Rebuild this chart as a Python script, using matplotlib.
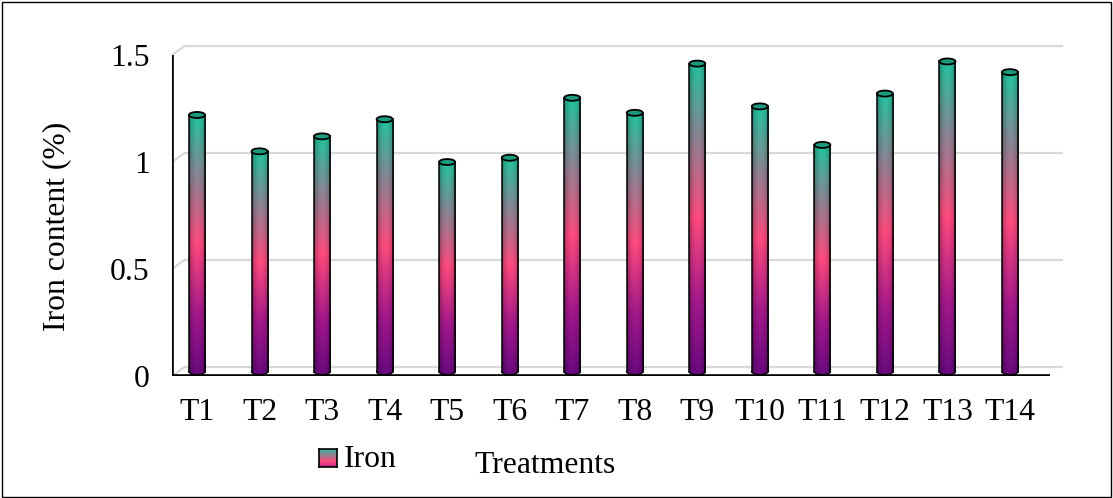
import numpy as np
import matplotlib.pyplot as plt
from matplotlib.colors import LinearSegmentedColormap
from matplotlib.patches import Ellipse, Rectangle

treatments = ["T1", "T2", "T3", "T4", "T5", "T6", "T7",
              "T8", "T9", "T10", "T11", "T12", "T13", "T14"]
iron = [1.20, 1.03, 1.10, 1.18, 0.98, 1.00, 1.28,
        1.21, 1.44, 1.24, 1.06, 1.30, 1.45, 1.40]
y_ticks = [0, 0.5, 1, 1.5]
y_tick_labels = ["0", "0.5", "1", "1.5"]

plt.rcParams['font.family'] = ['Liberation Serif', 'DejaVu Serif']
fs = 22.8

# purple -> pink -> grey -> teal, like the excel gradient fill
cmap = LinearSegmentedColormap.from_list(
    "iron", [(0.0, "#6c0a80"), (0.22, "#a3188c"), (0.5, "#ff4a7e"),
             (0.76, "#8c8494"), (1.0, "#22c49f")])

fig = plt.figure(figsize=(11.13, 4.98), dpi=100)
ax = fig.add_axes([172/1113, 122/498, 903/1113, 346/498])
for s in ax.spines.values():
    s.set_visible(False)

# fake 3-d walls
dx, dy = 0.2, 0.042
x0, x1 = -0.4, 13.64
for t in y_ticks:
    ax.plot([x0 + dx, x1 + dx], [t + dy, t + dy], color="#d9d9d9", lw=1.6, zorder=1)
    ax.plot([x0, x0 + dx], [t, t + dy], color="#d9d9d9", lw=1.6, zorder=1)

ax.plot([x0, x0], [0, 1.5], color="black", lw=2.6, zorder=5, solid_capstyle="butt")
ax.plot([x0, x1], [0, 0], color="black", lw=2.6, zorder=5, solid_capstyle="butt")

# cylinders
w = 0.256
base = 0.02
eh = 0.028
N, M = 256, 40
grad = cmap(np.linspace(0, 1, N))[:, :3]
u = (np.arange(M) + 0.5) / M
shade = 0.6 + 0.4 * np.sin(np.pi * u) ** 0.6
img = np.clip(grad[:, None, :] * shade[None, :, None], 0, 1)

for i, v in enumerate(iron):
    top = base + v
    ax.add_patch(Ellipse((i, base), w, eh, facecolor="#6c0a80",
                         edgecolor="black", lw=1.0, zorder=2.9))
    ax.imshow(img, extent=[i - w/2, i + w/2, base, top], origin="lower",
              aspect="auto", interpolation="bilinear", zorder=3)
    ax.plot([i - w/2, i - w/2], [base, top], color="black", lw=1.1, zorder=3.5)
    ax.plot([i + w/2, i + w/2], [base, top], color="black", lw=1.1, zorder=3.5)
    ax.add_patch(Ellipse((i, top), w, eh, facecolor="#1b9a7d",
                         edgecolor="black", lw=1.3, zorder=4))

ax.set_xlim(-0.4, 14.04)
ax.set_ylim(0, 1.617)
ax.set_xticks(range(len(treatments)))
ax.set_xticklabels(treatments, fontsize=fs)
ax.set_yticks(y_ticks)
ax.set_yticklabels(y_tick_labels, fontsize=fs)
ax.tick_params(axis="x", length=0, pad=16)
ax.tick_params(axis="y", length=0, pad=16)

fig.text(57/1113, (498-226)/498, "Iron content (%)", rotation=90,
         ha="center", va="center", fontsize=fs)
fig.text(545/1113, (498-473)/498, "Treatments", ha="center",
         va="baseline", fontsize=fs)

# legend
lax = fig.add_axes([319/1113, (498-467)/498, 18/1113, 18/498])
lax.imshow(cmap(np.linspace(0.3, 1, 64))[:, None, :3], origin="lower",
           aspect="auto", extent=[0, 1, 0, 1])
lax.set_xticks([])
lax.set_yticks([])
for s in lax.spines.values():
    s.set_linewidth(1.2)
fig.text(344/1113, (498-467)/498, "Iron", ha="left", va="baseline", fontsize=fs)

fig.patches.append(Rectangle((0.002, 0.003), 0.996, 0.993, transform=fig.transFigure,
                             fill=False, edgecolor="black", lw=1.0))

fig.savefig("out.png", dpi=100)
